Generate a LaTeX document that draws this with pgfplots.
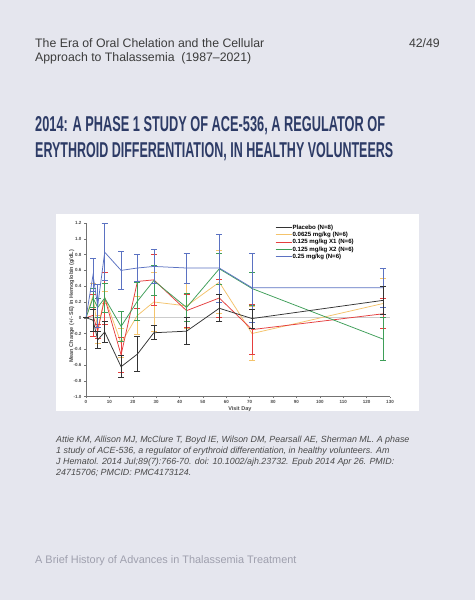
\documentclass[border=0pt]{standalone}
\usepackage{pgfplots}
\pgfplotsset{compat=1.18}
\usepackage{pgfplotstable}
\usepackage{graphicx}
\usepackage{fontspec}
\setmainfont{Liberation Sans}
\definecolor{bg}{HTML}{E5E6EE}
\definecolor{hdr}{HTML}{3C3C3C}
\definecolor{ttl}{HTML}{2D3B66}
\definecolor{cit}{HTML}{4A4A4A}
\definecolor{foot}{HTML}{9FA0AE}
\definecolor{cblack}{HTML}{333333}
\definecolor{cyel}{HTML}{F4C36B}
\definecolor{cred}{HTML}{E53E3E}
\definecolor{cgreen}{HTML}{3E9E58}
\definecolor{cblue}{HTML}{5B72C2}

\pgfplotstableread{
x y e
0 0 0
3 -0.03 0.14
5 -0.28 0.11
8 -0.18 0.13
15 -0.62 0.14
22 -0.46 0.22
29 -0.19 0.09
43 -0.17 0.17
57 0.12 0.17
71 -0.01 0.12
127 0.22 0.18
}\placebo
\pgfplotstableread{
x y e
0 0 0
3 0.28 0.15
5 -0.15 0.18
8 0.26 0.08
15 -0.32 0.18
22 0.03 0.24
29 0.20 0.37
43 0.15 0.29
57 0.45 0.40
71 -0.20 0.34
127 0.18 0.32
}\lowdose
\pgfplotstableread{
x y e
0 0 0
3 0.03 0.27
5 -0.17 0.09
8 0.25 0.33
15 -0.47 0.22
22 0.46 0.34
29 0.48 0.32
43 0.09 0.21
57 0.25 0.24
71 -0.15 0.32
127 0.05 0.19
}\midone
\pgfplotstableread{
x y e
0 0 0
3 0.25 0.12
5 0.13 0.12
8 0.25 0.18
15 -0.11 0.19
22 0.21 0.24
29 0.47 0.19
43 0.13 0.18
57 0.62 0.20
71 0.37 0.21
127 -0.27 0.27
}\midtwo
\pgfplotstableread{
x y e
0 0 0
3 0.54 0.21
5 0.15 0.27
8 0.83 0.36
15 0.60 0.24
22 0.63 0.17
29 0.65 0.21
43 0.63 0.19
57 0.63 0.43
71 0.38 0.44
127 0.38 0.25
}\highdose

\pgfplotsset{errb/.style={error bars/.cd, y dir=both, y explicit,
  error bar style={line width=0.55pt}, error mark=-, error mark options={solid, rotate=90, mark size=3pt, line width=0.75pt}, /pgfplots/.cd}}

\begin{document}
\begin{tikzpicture}
\fill[bg] (0pt,0pt) rectangle (475pt,-600pt);
\node[anchor=base west, inner sep=0, text=hdr, font=\fontsize{12.3}{14}\selectfont] at (35pt,-47pt) {The Era of Oral Chelation and the Cellular};
\node[anchor=base west, inner sep=0, text=hdr, font=\fontsize{12.3}{14}\selectfont] at (35pt,-61pt) {Approach to Thalassemia\ \ (1987--2021)};
\node[anchor=base east, inner sep=0, text=hdr, font=\fontsize{12.3}{14}\selectfont] at (440pt,-47pt) {42/49};
\node[anchor=base west, inner sep=0, text=ttl] at (35pt,-131pt) {\resizebox{350pt}{15pt}{\bfseries 2014: A PHASE 1 STUDY OF ACE-536, A REGULATOR OF}};
\node[anchor=base west, inner sep=0, text=ttl] at (35pt,-157pt) {\resizebox{358pt}{15pt}{\bfseries ERYTHROID DIFFERENTIATION, IN HEALTHY VOLUNTEERS}};
\fill[white] (56pt,-214pt) rectangle (419pt,-411pt);
\begin{scope}[every node/.style={anchor=base west, inner sep=0, text=cit, font=\fontsize{8.9}{10}\selectfont\itshape}]
\node at (56pt,-442pt) {Attie KM, Allison MJ, McClure T, Boyd IE, Wilson DM, Pearsall AE, Sherman ML. A phase};
\node at (56pt,-453pt) {1 study of ACE-536, a regulator of erythroid differentiation, in healthy volunteers. Am};
\node at (56pt,-464pt) {J Hematol. 2014 Jul;89(7):766-70. doi: 10.1002/ajh.23732. Epub 2014 Apr 26. PMID:};
\node at (56pt,-475pt) {24715706; PMCID: PMC4173124.};
\end{scope}
\node[anchor=base west, inner sep=0, text=foot, font=\fontsize{10.9}{12}\selectfont] at (35pt,-563pt) {A Brief History of Advances in Thalassemia Treatment};

\begin{axis}[at={(86pt,-396.7pt)}, anchor=south west, scale only axis,
  width=304pt, height=173.7pt,
  xmin=0, xmax=130, ymin=-1, ymax=1.2,
  axis lines*=left,
  axis line style={black!55, line width=0.8pt},
  xtick={0,10,...,130},
  ytick={-1,-0.8,-0.6,-0.4,-0.2,0,0.2,0.4,0.6,0.8,1,1.2},
  yticklabels={-1.0,-0.8,-0.6,-0.4,-0.2,0,0.2,0.4,0.6,0.8,1.0,1.2},
  tick align=outside, major tick length=1.6pt,
  tick style={black!55, line width=0.5pt},
  /pgf/number format/assume math mode=true,
  tick label style={font=\fontsize{4.5}{5}\selectfont\bfseries, text=black!70},
  xticklabel style={yshift=1pt},
  yticklabel style={xshift=0.5pt},
  xlabel={Visit Day},
  ylabel={Mean Change (+/- SE) in Hemoglobin (g/dL)},
  xlabel style={font=\fontsize{5.5}{6}\selectfont\bfseries, text=black!70, at={(axis description cs:0.506,-0.07)}, anchor=center},
  ylabel style={font=\fontsize{5.5}{6}\selectfont\bfseries, text=black!70, at={(axis description cs:-0.047,0.52)}, anchor=center},
  clip=false,
  legend style={at={(0.622,0.995)}, anchor=north west, draw=none, fill=none,
    font=\fontsize{6.1}{7}\selectfont\bfseries, inner sep=0pt, row sep=0.5pt,
    nodes={inner sep=0.5pt, text height=4.6pt, text depth=1.2pt}},
  legend cell align=left,
  legend image code/.code={\draw[#1] (0pt,0pt) -- (16pt,0pt);},
]
\addplot[gray!40, line width=0.6pt, forget plot] coordinates {(0,0) (130,0)};
\addplot[cyel, line width=0.75pt, forget plot, errb] table[x=x,y=y,y error=e] {\lowdose};
\addplot[cred, line width=0.75pt, forget plot, errb] table[x=x,y=y,y error=e] {\midone};
\addplot[cgreen, line width=0.75pt, forget plot, errb] table[x=x,y=y,y error=e] {\midtwo};
\addplot[cblue, line width=0.75pt, forget plot, errb] table[x=x,y=y,y error=e] {\highdose};
\addplot[cblack, line width=0.75pt, forget plot, errb] table[x=x,y=y,y error=e] {\placebo};
\addlegendimage{cblack, line width=0.75pt}
\addlegendentry{Placebo (N=8)}
\addlegendimage{cyel, line width=0.75pt}
\addlegendentry{0.0625 mg/kg (N=6)}
\addlegendimage{cred, line width=0.75pt}
\addlegendentry{0.125 mg/kg X1 (N=6)}
\addlegendimage{cgreen, line width=0.75pt}
\addlegendentry{0.125 mg/kg X2 (N=6)}
\addlegendimage{cblue, line width=0.75pt}
\addlegendentry{0.25 mg/kg (N=6)}
\end{axis}
\end{tikzpicture}
\end{document}
